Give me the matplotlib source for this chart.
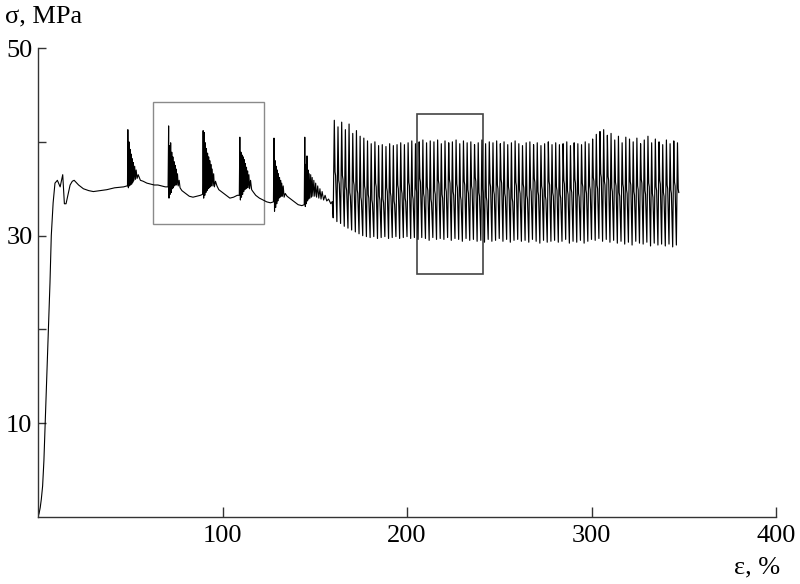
import matplotlib
matplotlib.use("Agg")
import matplotlib.pyplot as plt
from matplotlib.patches import Rectangle

# elastic part and yield region
yield_strain = [0.0, 0.6, 1.2, 1.8, 2.5, 3.2, 3.9, 4.8, 5.7, 6.5, 7.2, 8.2, 9.2, 10.5,
                12.0, 13.4, 14.3, 15.2, 16.2, 17.4, 18.6, 19.6, 22.0, 24.6, 27.5,
                30.0, 33.5, 37.3, 41.5, 46.4, 48.2]
yield_stress = [0.0, 0.4, 1.0, 1.9, 3.3, 6.0, 10.0, 15.0, 20.0, 25.0, 30.0, 33.5, 35.6, 35.9,
                35.2, 36.5, 33.4, 33.4, 34.3, 35.4, 35.8, 35.9, 35.4, 35.0, 34.8,
                34.7, 34.8, 34.9, 35.1, 35.2, 35.3]

# isolated serration bursts
burst1_strain = [48.5, 48.7, 49.0, 49.3, 49.6, 49.9, 50.2, 50.5, 50.8, 51.1, 51.4, 51.7, 52.0,
                 52.4, 52.8, 53.2, 53.7, 54.3, 55.5, 57.0, 59.0, 61.0, 63.0, 65.0, 67.0, 69.0, 70.5]
burst1_stress = [35.3, 41.3, 35.1, 40.0, 35.3, 39.2, 35.4, 38.7, 35.5, 38.2, 35.7, 37.8, 35.9,
                 37.4, 36.0, 37.0, 36.1, 36.5, 35.9, 35.8, 35.6, 35.5, 35.4, 35.4, 35.3, 35.2, 35.2]

burst2_strain = [70.8, 71.0, 71.3, 71.6, 71.9, 72.2, 72.5, 72.8, 73.1, 73.4, 73.7, 74.0, 74.3,
                 74.6, 74.9, 75.2, 75.6, 76.0, 76.5, 77.0, 78.0, 80.0, 82.0, 84.0, 86.0, 88.0, 89.2]
burst2_stress = [41.7, 34.0, 39.6, 34.4, 39.9, 34.6, 38.9, 35.0, 38.4, 35.1, 37.9, 35.3, 37.5,
                 35.4, 37.1, 35.4, 36.6, 35.3, 35.9, 35.1, 34.8, 34.5, 34.2, 34.1, 34.2, 34.3, 34.4]

burst3_strain = [89.5, 89.8, 90.1, 90.4, 90.7, 91.0, 91.3, 91.6, 91.9, 92.2, 92.5, 92.8, 93.1,
                 93.4, 93.7, 94.0, 94.4, 94.8, 95.2, 95.6, 96.2, 97.0, 98.0, 100.0, 102.0,
                 104.0, 106.0, 108.0, 109.1]
burst3_stress = [41.2, 34.0, 41.0, 34.3, 39.9, 34.6, 39.3, 34.8, 38.8, 35.0, 38.4, 35.1, 38.0,
                 35.2, 37.6, 35.3, 37.1, 35.3, 36.6, 35.2, 35.8, 35.3, 34.9, 34.6, 34.3,
                 34.0, 34.1, 34.3, 34.3]

burst4_strain = [109.4, 109.7, 110.0, 110.3, 110.6, 110.9, 111.2, 111.5, 111.8, 112.1, 112.4,
                 112.7, 113.0, 113.3, 113.6, 113.9, 114.3, 114.7, 115.2, 115.8, 116.5, 118.0,
                 120.0, 122.0, 124.0, 126.0, 127.6]
burst4_stress = [40.5, 33.8, 38.9, 34.1, 38.6, 34.4, 38.4, 34.7, 38.1, 34.9, 37.7,
                 35.0, 37.3, 35.1, 36.9, 35.1, 36.5, 35.0, 35.9, 34.9, 34.7, 34.3,
                 34.0, 33.8, 33.6, 33.5, 33.6]

burst5_strain = [127.9, 128.2, 128.5, 128.8, 129.1, 129.4, 129.7, 130.0, 130.3, 130.6, 130.9,
                 131.2, 131.5, 131.8, 132.1, 132.5, 132.9, 133.4, 134.0, 135.0, 137.0, 139.0,
                 141.0, 143.0, 144.3]
burst5_stress = [40.4, 32.6, 38.0, 33.0, 37.4, 33.4, 37.0, 33.7, 36.6, 34.0, 36.2,
                 34.1, 35.9, 34.2, 35.6, 34.2, 35.3, 34.1, 34.5, 34.2, 33.9, 33.6,
                 33.3, 33.2, 33.3]

burst6_strain = [144.6, 144.9, 145.2, 145.5, 145.8, 146.1, 146.4, 146.7, 147.0, 147.4, 147.8,
                 148.2, 148.6, 149.0, 149.5, 150.0, 150.5, 151.0, 151.6, 152.2, 152.8, 153.4,
                 154.0, 154.8, 155.6, 156.5, 157.5, 158.7, 159.5]
burst6_stress = [40.5, 33.1, 37.6, 33.4, 38.5, 33.7, 37.0, 33.9, 36.6, 34.0, 36.5,
                 34.1, 36.2, 34.2, 35.9, 34.2, 35.6, 34.1, 35.3, 34.0, 35.0, 33.9,
                 34.7, 33.8, 34.3, 33.7, 33.9, 33.4, 33.6]

# continuous serrations: strain at start of each cycle, its trough and peak
cycle_strain = [160, 162, 164, 166, 168, 170, 172, 174, 176, 178,
                180, 182, 184, 186, 188, 190, 192, 194, 196, 198,
                200, 202, 204, 206, 208, 210, 212, 214, 216, 218,
                220, 222, 224, 226, 228, 230, 232, 234, 236, 238,
                240, 242, 244, 246, 248, 250, 252, 254, 256, 258,
                260, 262, 264, 266, 268, 270, 272, 274, 276, 278,
                280, 282, 284, 286, 288, 290, 292, 294, 296, 298,
                300, 302, 304, 306, 308, 310, 312, 314, 316, 318,
                320, 322, 324, 326, 328, 330, 332, 334, 336, 338,
                340, 342, 344, 346]
cycle_peak = [42.3, 41.6, 42.1, 41.3, 41.9, 40.9, 41.2, 40.6, 40.4, 40.1,
              39.8, 40.0, 39.6, 39.7, 39.5, 39.8, 39.6, 39.7, 39.9, 39.7,
              39.9, 40.1, 39.8, 40.0, 40.2, 39.9, 40.1, 40.0, 40.2, 39.8,
              40.1, 39.9, 40.0, 40.2, 39.8, 40.1, 39.9, 40.0, 39.7, 39.9,
              40.2, 39.8, 40.0, 39.9, 40.1, 39.8, 40.0, 39.7, 39.9, 40.1,
              39.8, 39.6, 39.9, 40.0, 39.7, 39.9, 39.6, 39.8, 40.0, 39.7,
              39.9, 39.7, 39.8, 40.0, 39.6, 39.9, 39.8, 39.7, 40.0, 39.8,
              40.3, 40.8, 41.1, 41.3, 40.7, 40.9, 40.2, 40.6, 39.9, 40.5,
              40.3, 40.0, 40.4, 39.8, 40.2, 40.6, 39.9, 40.3, 40.0, 39.7,
              40.2, 39.8, 40.1, 39.9]
# level of the short hold on the way down in each cycle
cycle_knee = [36.8, 35.9, 36.4, 35.2, 34.6, 35.8, 34.9, 34.1, 35.3, 34.4,
              33.8, 35.6, 34.2, 33.9, 35.1, 34.6, 33.7, 35.4, 34.9, 34.0,
              35.7, 34.3, 35.0, 36.1, 34.5, 35.2, 33.9, 34.8, 35.9, 34.4,
              35.1, 36.0, 34.7, 35.5, 34.2, 35.8, 34.9, 35.3, 36.2, 34.6,
              35.0, 34.1, 35.6, 34.8, 35.4, 36.0, 34.5, 35.2, 34.0, 35.7,
              34.9, 35.5, 34.3, 35.1, 36.1, 34.7, 35.3, 34.2, 35.8, 34.6,
              35.2, 34.4, 35.9, 34.8, 35.0, 36.0, 34.5, 35.6, 34.9, 35.3,
              36.2, 35.4, 36.6, 35.8, 36.3, 35.1, 35.7, 34.6, 35.5, 34.9,
              35.8, 34.7, 35.3, 36.0, 34.8, 35.6, 34.5, 35.2, 35.9, 34.6,
              35.4, 34.9, 35.7, 35.0]
cycle_trough = [31.9, 31.5, 31.3, 31.0, 30.8, 30.6, 30.4, 30.2, 30.0, 29.9,
                29.8, 29.9, 29.7, 29.8, 29.9, 29.7, 29.8, 29.9, 29.7, 29.8,
                29.9, 29.7, 29.8, 29.6, 29.8, 29.7, 29.5, 29.8, 29.6, 29.7,
                29.6, 29.8, 29.5, 29.7, 29.6, 29.4, 29.7, 29.5, 29.6, 29.4,
                29.5, 29.3, 29.6, 29.4, 29.5, 29.7, 29.4, 29.6, 29.3, 29.5,
                29.6, 29.4, 29.5, 29.3, 29.6, 29.4, 29.2, 29.5, 29.3, 29.4,
                29.5, 29.3, 29.4, 29.6, 29.2, 29.4, 29.3, 29.5, 29.2, 29.4,
                29.6, 29.5, 29.7, 29.4, 29.6, 29.3, 29.5, 29.2, 29.4, 29.1,
                29.3, 29.0, 29.4, 29.2, 29.1, 29.3, 28.9, 29.2, 29.0, 29.1,
                28.9, 29.1, 28.8, 29.0]

# framed regions: (strain0, stress0, strain1, stress1)
box_a = [62.5, 31.25, 122.3, 44.2]
box_b = [205.4, 25.9, 241.1, 42.95]

x_ticks = [100, 200, 300, 400]
y_ticks = [10, 20, 30, 40, 50]
y_tick_labels = ["10", "", "30", "", "50"]


def build_start():
    xs = list(yield_strain)
    ys = list(yield_stress)
    for bx, by in [(burst1_strain, burst1_stress), (burst2_strain, burst2_stress),
                   (burst3_strain, burst3_stress), (burst4_strain, burst4_stress),
                   (burst5_strain, burst5_stress), (burst6_strain, burst6_stress)]:
        xs += bx
        ys += by
    return xs, ys


def build_cycles(x0, y0):
    xs = [x0]
    ys = [y0]
    for s, lo, hi, mid in zip(cycle_strain, cycle_trough, cycle_peak, cycle_knee):
        xs += [s, s + 0.6, s + 1.0, s + 1.3]
        ys += [lo, hi, mid, mid - 0.4]
    return xs, ys


def add_box(ax, box, color, lw):
    ax.add_patch(Rectangle((box[0], box[1]), box[2] - box[0], box[3] - box[1],
                           fill=False, edgecolor=color, linewidth=lw))


plt.rcParams['font.family'] = ['Liberation Serif', 'DejaVu Serif']

fig = plt.figure(figsize=(8, 5.84), dpi=100)
ax = fig.add_axes([0.0475, 0.1147, 0.9225, 0.803])

xs, ys = build_start()
ax.plot(xs, ys, color="black", linewidth=0.8)
cx, cy = build_cycles(xs[-1], ys[-1])
ax.plot(cx, cy, color="black", linewidth=0.85)

add_box(ax, box_a, "#8a8a8a", 1.0)
add_box(ax, box_b, "#444444", 1.2)

ax.set_xlim(0, 400)
ax.set_ylim(0, 50)
ax.spines["top"].set_visible(False)
ax.spines["right"].set_visible(False)
for side in ["left", "bottom"]:
    ax.spines[side].set_color("#333333")
    ax.spines[side].set_linewidth(1.0)

ax.set_xticks(x_ticks)
ax.set_xticklabels([str(v) for v in x_ticks])
ax.set_yticks(y_ticks)
ax.set_yticklabels(y_tick_labels)
ax.tick_params(axis="both", direction="in", colors="#333333", labelcolor="black",
               labelsize=19, width=1.0)
ax.tick_params(axis="x", length=7, pad=6)
ax.tick_params(axis="y", length=6, pad=4)

fig.text(0.006, 0.972, "σ, MPa", fontsize=19, va="center", ha="left")
fig.text(0.975, 0.028, "ε, %", fontsize=19, va="center", ha="right")

fig.savefig("out.png", dpi=100)
